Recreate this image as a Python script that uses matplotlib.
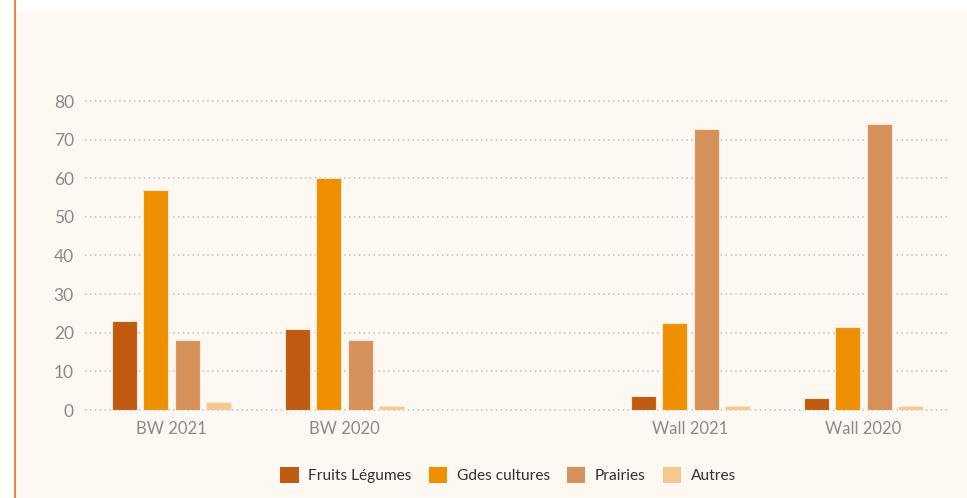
import matplotlib
matplotlib.use("Agg")
import matplotlib.pyplot as plt
from matplotlib.patches import Rectangle, Patch
from matplotlib.lines import Line2D
import numpy as np

categories = ["BW 2021", "BW 2020", "", "Wall 2021", "Wall 2020"]
series_names = ["Fruits Légumes", "Gdes cultures", "Prairies", "Autres"]
fruits = [23, 21, None, 3.5, 3]
gdes = [57, 60, None, 22.4, 21.4]
prairies = [18, 18, None, 72.7, 74]
autres = [2, 1, None, 1, 1]
yticks = [0, 10, 20, 30, 40, 50, 60, 70, 80]

colors = ["#bf5a10", "#ee9000", "#d6915a", "#f6c890"]
bg = "#fdf8f2"

fig = plt.figure(figsize=(9.67, 4.98), dpi=100, facecolor="white")
fig.patches.append(Rectangle((16/967, 0), 1 - 16/967, 1 - 12/498, transform=fig.transFigure,
                             facecolor=bg, edgecolor="none", zorder=-10))
fig.lines.append(Line2D([14.5/967, 14.5/967], [0, 1], transform=fig.transFigure,
                        color="#e0884a", linewidth=1.5, zorder=-5))

ax = fig.add_axes([85/967, 1 - 410/498, (950 - 85)/967, (410 - 101)/498])
ax.set_facecolor("none")
ax.set_zorder(5)

x = np.arange(len(categories))
width = 0.144
step = 0.182
all_series = [fruits, gdes, prairies, autres]
for i, (vals, c) in enumerate(zip(all_series, colors)):
    xs = [xi + (i - 1.5) * step for xi, v in zip(x, vals) if v is not None]
    vs = [v for v in vals if v is not None]
    ax.bar(xs, vs, width=width, color=c, edgecolor="#fbe9d6", linewidth=0.8, zorder=3)

ax.set_xlim(-0.5, len(categories) - 0.5)
ax.set_ylim(0, 80)
ax.set_yticks(yticks)
ax.set_xticks([xi for xi, c in zip(x, categories) if c])
ax.set_xticklabels([c for c in categories if c])
for s in ax.spines.values():
    s.set_visible(False)
ax.tick_params(axis="both", length=0, labelcolor="#8a8a8a")
ax.tick_params(axis="y", pad=8, labelsize=12.5)
ax.tick_params(axis="x", pad=8, labelsize=12)
for lab in ax.get_xticklabels() + ax.get_yticklabels():
    lab.set_fontfamily("Lato")
ax.yaxis.grid(True, linestyle=(0, (1, 2.2)), color="#c0c0c0", linewidth=1.1, zorder=0)
ax.set_axisbelow(True)
for gl in ax.get_ygridlines():
    gl.set_clip_on(False)

handles = [Patch(facecolor=c, edgecolor="none") for c in colors]
fig.legend(handles, series_names, loc="center", bbox_to_anchor=(508/967, 1 - 475/498),
           ncol=4, frameon=False, handlelength=1.2, handleheight=1.2, handletextpad=0.6,
           columnspacing=1.1, prop={"family": "Lato", "size": 11.2}, labelcolor="#333333")

fig.savefig("out.png", dpi=100, facecolor="white")
